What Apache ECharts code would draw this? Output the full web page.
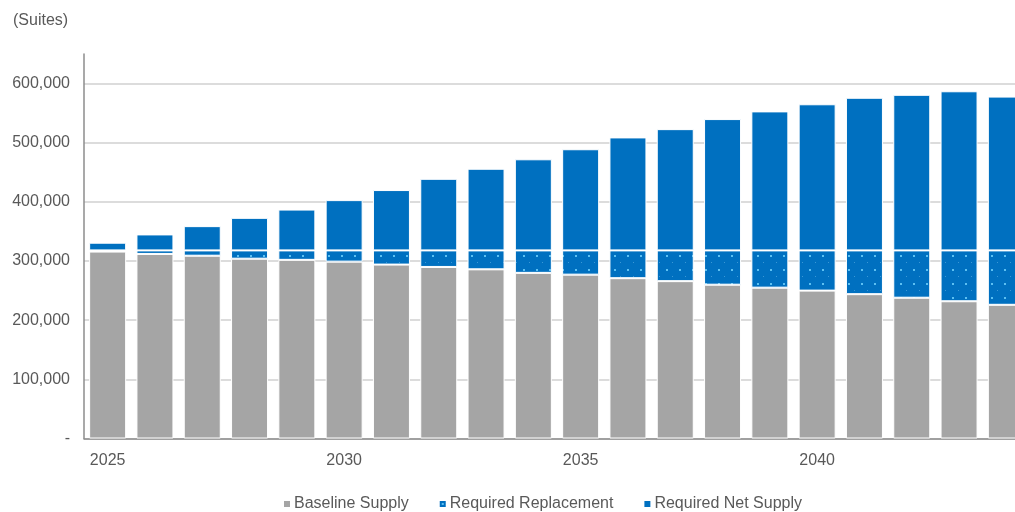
<!DOCTYPE html>
<html>
<head>
<meta charset="utf-8">
<script src="https://cdn.jsdelivr.net/npm/echarts@6/dist/echarts.min.js"></script>
<style>html,body{margin:0;padding:0;background:#fff;overflow:hidden;width:1015px;height:512px;}#c{width:1030px;height:512px;}</style>
</head>
<body>
<div id="c"></div>
<script>
const years = ['2025','2026','2027','2028','2029','2030','2031','2032','2033','2034','2035','2036','2037','2038','2039','2040','2041','2042','2043','2044'];
const baselineSupply = [316000,312000,309000,304000,302000,299000,294000,290000,286000,280000,277000,271000,266000,260000,255000,250000,244000,238000,232000,226000];
const requiredReplacement = [2000,6000,9000,14000,16000,19000,24000,28000,32000,38000,41000,47000,52000,58000,63000,68000,74000,80000,86000,92000];
const requiredNetSupply = [13000,27000,41000,55000,69000,85000,102000,121000,138000,154000,171000,191000,205000,222000,235000,247000,258000,263000,269000,260000];
const seriesNames = ['Baseline Supply','Required Replacement','Required Net Supply'];

const FONT = '"Liberation Sans", Arial, sans-serif';
const TXT = '#595959';

// dotted pattern for Required Replacement
const pc = document.createElement('canvas');
pc.width = 13; pc.height = 14;
const g = pc.getContext('2d');
g.fillStyle = '#0070C0'; g.fillRect(0,0,13,14);
g.fillStyle = '#5cc0f2'; g.fillRect(3,3,2,2);
g.fillStyle = '#3a98d6'; g.fillRect(9,10,1,1);

const chart = echarts.init(document.getElementById('c'), null, {renderer:'canvas', width: 1030, height: 512});
chart.setOption({
  animation: false,
  backgroundColor: '#fff',
  title: {
    text: '(Suites)', left: 8, top: 8,
    textStyle: {fontFamily: FONT, fontSize: 16, fontWeight: 'normal', color: TXT}
  },
  legend: {
    top: 491, left: 277,
    itemWidth: 8, itemHeight: 8, itemGap: 29,
    textStyle: {fontFamily: FONT, fontSize: 16, color: TXT, padding: [0,0,0,-2]},
    data: [
      {name: seriesNames[0], icon: 'rect'},
      {name: seriesNames[1], icon: 'rect'},
      {name: seriesNames[2], icon: 'rect'}
    ]
  },
  grid: {left: 84, right: 0, top: 54, bottom: 73.5, containLabel: false},
  xAxis: {
    type: 'category', data: years,
    axisLine: {lineStyle: {color: '#8c8c8c', width: 1.5}},
    axisTick: {show: false},
    axisLabel: {interval: 4, margin: 14, fontFamily: FONT, fontSize: 16, color: TXT}
  },
  yAxis: {
    type: 'value', min: 0, max: 650000, interval: 100000,
    axisLine: {show: true, lineStyle: {color: '#8c8c8c', width: 1.5}},
    axisTick: {show: false},
    splitLine: {show: true, showMaxLine: false, lineStyle: {color: '#dcdcdc', width: 2}},
    axisLabel: {
      margin: 14, fontFamily: FONT, fontSize: 16, color: TXT, showMaxLabel: false,
      formatter: v => v === 0 ? '-' : (v >= 650000 ? '' : v.toLocaleString('en-US'))
    }
  },
  series: [
    {name: seriesNames[0], type: 'bar', stack: 's', data: baselineSupply, barWidth: 37,
     itemStyle: {color: '#A5A5A5', borderColor: '#fff', borderWidth: 1}},
    {name: seriesNames[1], type: 'bar', stack: 's', data: requiredReplacement, barWidth: 37,
     itemStyle: {color: {image: pc, repeat: 'repeat'}, borderColor: '#fff', borderWidth: 1}},
    {name: seriesNames[2], type: 'bar', stack: 's', data: requiredNetSupply, barWidth: 37,
     itemStyle: {color: '#0070C0', borderColor: '#fff', borderWidth: 1}}
  ]
});
</script>
</body>
</html>
